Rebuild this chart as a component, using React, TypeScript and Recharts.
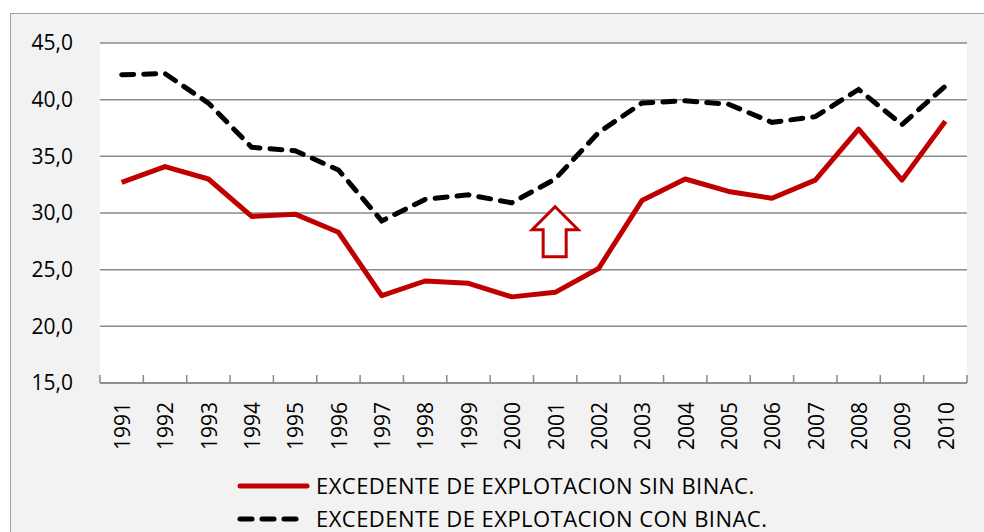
import { LineChart, Line, XAxis, YAxis, CartesianGrid, ReferenceDot } from 'recharts';

const years = ['1991', '1992', '1993', '1994', '1995', '1996', '1997', '1998', '1999', '2000',
  '2001', '2002', '2003', '2004', '2005', '2006', '2007', '2008', '2009', '2010'];
const sinBinac = [32.7, 34.1, 33.0, 29.7, 29.9, 28.3, 22.7, 24.0, 23.8, 22.6,
  23.0, 25.1, 31.1, 33.0, 31.9, 31.3, 32.9, 37.4, 32.9, 38.1];
const conBinac = [42.2, 42.3, 39.7, 35.8, 35.5, 33.8, 29.3, 31.2, 31.6, 30.9,
  33.0, 37.1, 39.7, 39.9, 39.6, 38.0, 38.5, 40.9, 37.8, 41.2];
const yTicks = [15, 20, 25, 30, 35, 40, 45];
const seriesNames = ['EXCEDENTE DE EXPLOTACION SIN BINAC.', 'EXCEDENTE DE EXPLOTACION CON BINAC.'];

// arrow annotation points at 2001
const arrowYear = '2001';
const arrowValue = 28.35;

const FONT = '"Open Sans", "DejaVu Sans", sans-serif';
const RED = '#c00000';
const GRID = '#8a8a8a';

const data = years.map((year, i) => ({ year, sin: sinBinac[i], con: conBinac[i] }));

const PLOT_W = 867;
const HALF_BAND = PLOT_W / years.length / 2;

function YearTick(props: any) {
  const { x, y, payload, index } = props;
  return (
    <g>
      <line x1={x - HALF_BAND} x2={x - HALF_BAND} y1={y - 8} y2={y} stroke={GRID} strokeWidth={1.5} />
      {index === years.length - 1 && (
        <line x1={x + HALF_BAND} x2={x + HALF_BAND} y1={y - 8} y2={y} stroke={GRID} strokeWidth={1.5} />
      )}
      <text
        x={x + 1}
        y={y + 19}
        dy="0.35em"
        textAnchor="end"
        transform={`rotate(-90, ${x + 1}, ${y + 19})`}
        fontFamily={FONT}
        fontSize={21}
        fill="#000"
      >
        {payload.value}
      </text>
    </g>
  );
}

function UpArrow(props: any) {
  const { cx, cy } = props;
  const pts = [
    [cx, cy - 25],
    [cx + 23, cy - 2],
    [cx + 11, cy - 2],
    [cx + 11, cy + 25],
    [cx - 12, cy + 25],
    [cx - 12, cy - 2],
    [cx - 23, cy - 2],
  ].map((p) => p.join(',')).join(' ');
  return <polygon points={pts} fill="#fff" stroke={RED} strokeWidth={3} />;
}

function ChartLegend() {
  const textStyle = { fontFamily: FONT, fontSize: 22, letterSpacing: 0.45 };
  return (
    <svg width={984} height={532} style={{ position: 'absolute', left: 0, top: 0, pointerEvents: 'none' }}>
      <line x1={240} x2={307} y1={486} y2={486} stroke={RED} strokeWidth={5} strokeLinecap="round" />
      <line x1={240} x2={305} y1={519} y2={519} stroke="#000" strokeWidth={5} strokeLinecap="round" strokeDasharray="12 10" />
      <text x={316} y={486} dy="0.35em" style={textStyle} fill="#000">{seriesNames[0]}</text>
      <text x={316} y={519} dy="0.35em" style={textStyle} fill="#000">{seriesNames[1]}</text>
    </svg>
  );
}

export default function App() {
  return (
    <div style={{ position: 'fixed', left: 0, top: 0, width: 984, height: 532, overflow: 'hidden', background: '#fff' }}>
      <div
        style={{
          position: 'absolute', left: 10, top: 13, width: 974, height: 519,
          background: '#f2f2f2', borderTop: '1.5px solid #a0a0a0', borderLeft: '1.5px solid #a0a0a0',
          boxSizing: 'border-box',
        }}
      />
      <div style={{ position: 'absolute', left: 0, top: 0 }}>
        <LineChart width={984} height={532} data={data} margin={{ top: 43, right: 17, bottom: 0, left: 10 }}>
          <CartesianGrid vertical={false} stroke={GRID} strokeWidth={1.5} fill="#fff" />
          <XAxis
            dataKey="year"
            interval={0}
            padding={{ left: HALF_BAND, right: HALF_BAND }}
            axisLine={{ stroke: GRID, strokeWidth: 1.5 }}
            tickLine={false}
            tickSize={0}
            tickMargin={0}
            tick={<YearTick />}
            height={149}
          />
          <YAxis
            width={90}
            domain={[15, 45]}
            ticks={yTicks}
            interval={0}
            axisLine={false}
            tickLine={false}
            tickSize={0}
            tickMargin={27}
            tickFormatter={(v: number) => v.toFixed(1).replace('.', ',')}
            tick={{ fontFamily: FONT, fontSize: 21, fill: '#000' }}
          />
          <Line
            dataKey="sin"
            stroke={RED}
            strokeWidth={5}
            dot={false}
            strokeLinejoin="round"
            isAnimationActive={false}
          />
          <Line
            dataKey="con"
            stroke="#000"
            strokeWidth={5}
            strokeDasharray="12 10"
            strokeLinecap="round"
            dot={false}
            isAnimationActive={false}
          />
          <ReferenceDot x={arrowYear} y={arrowValue} shape={<UpArrow />} ifOverflow="visible" />
        </LineChart>
      </div>
      <ChartLegend />
    </div>
  );
}
